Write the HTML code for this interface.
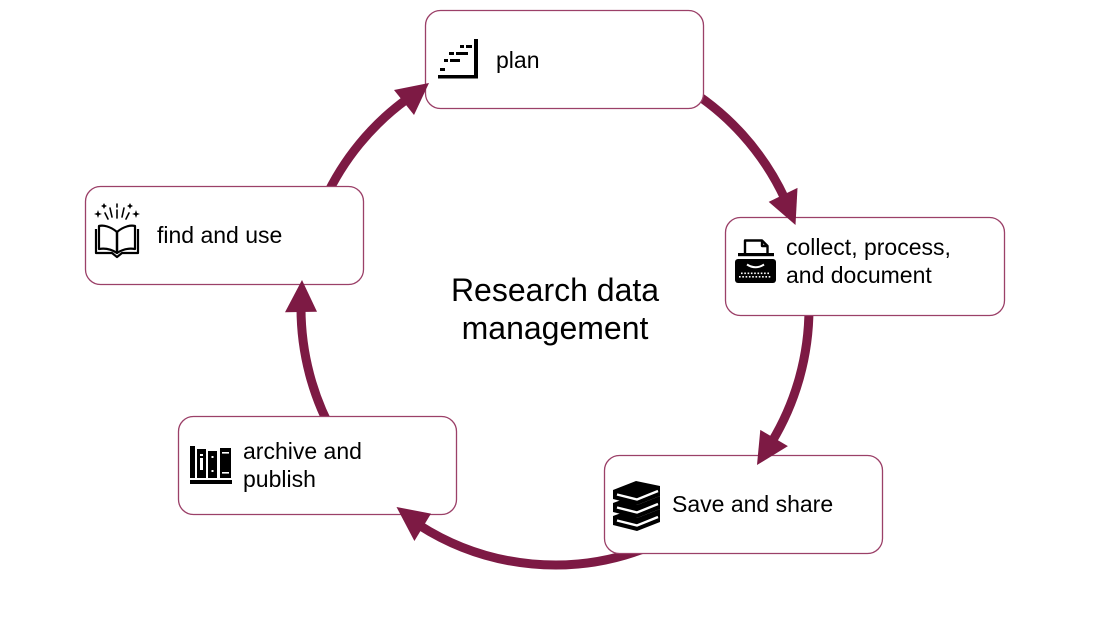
<!DOCTYPE html>
<html>
<head>
<meta charset="utf-8">
<style>
  html, body { margin: 0; padding: 0; background: #ffffff; }
  body { width: 1110px; height: 625px; overflow: hidden; }
  svg { display: block; }
  text { font-family: "Liberation Sans", Arial, sans-serif; fill: #000; }
</style>
</head>
<body>
<svg width="1110" height="625" viewBox="0 0 1110 625" xmlns="http://www.w3.org/2000/svg">
  <rect x="0" y="0" width="1110" height="625" fill="#ffffff"/>

  <!-- cycle arcs -->
  <g fill="none" stroke="#7d1a44" stroke-width="9" stroke-linecap="butt">
    <path d="M324.8,199.4 A254,257 0 0 1 407.1,99.0"/>
    <path d="M682,85.4 A254,257 0 0 1 785.0,199.0"/>
    <path d="M809,308 A254,257 0 0 1 771.8,441.9"/>
    <path d="M650.1,546.3 A254,257 0 0 1 418.9,525.0"/>
    <path d="M335.0,436.5 A254,257 0 0 1 301.0,307.6"/>
  </g>

  <!-- boxes -->
  <g fill="#ffffff" stroke="#9b4068" stroke-width="1.3">
    <rect x="425.5" y="10.5" width="278" height="98" rx="15" ry="15"/>
    <rect x="85.5" y="186.5" width="278" height="98" rx="15" ry="15"/>
    <rect x="725.5" y="217.5" width="279" height="98" rx="15" ry="15"/>
    <rect x="178.5" y="416.5" width="278" height="98" rx="15" ry="15"/>
    <rect x="604.5" y="455.5" width="278" height="98" rx="15" ry="15"/>
  </g>

  <!-- arrowheads -->
  <g fill="#7d1a44">
    <polygon points="429,83 394,90 414,115"/>
    <polygon points="795.5,225 797.5,187.9 768.7,201.9"/>
    <polygon points="757,465 787.9,446.1 760.3,429.9"/>
    <polygon points="396.5,507 414.4,541.0 431.0,513.6"/>
    <polygon points="302,280 285,312.3 317,311.7"/>
  </g>

  <!-- center title -->
  <text x="555" y="301" font-size="32" text-anchor="middle">Research data</text>
  <text x="555" y="339" font-size="32" text-anchor="middle">management</text>

  <!-- labels -->
  <text x="496" y="68" font-size="23">plan</text>
  <text x="157" y="243" font-size="23">find and use</text>
  <text x="786" y="255" font-size="23">collect, process,</text>
  <text x="786" y="283" font-size="23">and document</text>
  <text x="243" y="459" font-size="23">archive and</text>
  <text x="243" y="487" font-size="23">publish</text>
  <text x="672" y="512" font-size="23">Save and share</text>

  <!-- plan icon -->
  <g fill="#000">
    <rect x="474" y="39" width="4" height="39"/>
    <rect x="438" y="75" width="40" height="3.5"/>
    <rect x="460" y="45" width="4" height="3"/>
    <rect x="466" y="45" width="6" height="3"/>
    <rect x="449" y="52" width="5" height="3"/>
    <rect x="456" y="52" width="12" height="3"/>
    <rect x="444" y="59" width="4" height="3"/>
    <rect x="450" y="59" width="10" height="3"/>
    <rect x="440" y="68" width="5" height="3"/>
  </g>

  <!-- find and use icon: open book with sparkles -->
  <g fill="none" stroke="#000" stroke-width="2.2" stroke-linejoin="round">
    <path d="M117,232 C110,226 103,225 99,226 L99,249 C105,248 111,249 117,253 Z"/>
    <path d="M117,232 C124,226 131,225 135,226 L135,249 C129,248 123,249 117,253 Z"/>
    <path d="M96,229 L96,253 L112,253 L117,257 L122,253 L138,253 L138,229"/>
    <line x1="117" y1="232" x2="117" y2="253"/>
  </g>
  <g stroke="#000" stroke-width="1.6" stroke-linecap="round">
    <line x1="117" y1="204" x2="117" y2="207"/>
    <line x1="117" y1="210" x2="117" y2="218"/>
    <line x1="110" y1="208" x2="112" y2="217"/>
    <line x1="124" y1="208" x2="122" y2="217"/>
    <line x1="105" y1="213" x2="108" y2="219"/>
    <line x1="129" y1="213" x2="126" y2="219"/>
  </g>
  <g fill="#000">
    <path d="M98,210 L99,213 L102,214 L99,215 L98,218 L97,215 L94,214 L97,213 Z"/>
    <path d="M136,210 L137,213 L140,214 L137,215 L136,218 L135,215 L132,214 L135,213 Z"/>
    <path d="M104,203 L105,205 L107,206 L105,207 L104,209 L103,207 L101,206 L103,205 Z"/>
    <path d="M130,203 L131,205 L133,206 L131,207 L130,209 L129,207 L127,206 L129,205 Z"/>
  </g>

  <!-- collect icon: typewriter -->
  <g fill="none" stroke="#000" stroke-width="2.4" stroke-linejoin="round">
    <path d="M745,253 L745,240.5 L762,240.5 L767.5,246 L767.5,253"/>
    <path d="M762,240.5 L762,246 L767.5,246"/>
  </g>
  <rect x="738" y="253" width="36" height="3.2" fill="#000"/>
  <rect x="735" y="259" width="41" height="24" rx="3" fill="#000"/>
  <path d="M747,264.5 Q755.5,270 764,264.5" fill="none" stroke="#fff" stroke-width="2"/>
  <g fill="#fff">
    <rect x="739" y="276" width="1.6" height="1.6"/>
    <rect x="742.3" y="276" width="1.6" height="1.6"/>
    <rect x="745.6" y="276" width="1.6" height="1.6"/>
    <rect x="748.9" y="276" width="1.6" height="1.6"/>
    <rect x="752.2" y="276" width="1.6" height="1.6"/>
    <rect x="755.5" y="276" width="1.6" height="1.6"/>
    <rect x="758.8" y="276" width="1.6" height="1.6"/>
    <rect x="762.1" y="276" width="1.6" height="1.6"/>
    <rect x="765.4" y="276" width="1.6" height="1.6"/>
    <rect x="768.7" y="276" width="1.6" height="1.6"/>
    <rect x="741" y="272.5" width="1.6" height="1.6"/>
    <rect x="744.3" y="272.5" width="1.6" height="1.6"/>
    <rect x="747.6" y="272.5" width="1.6" height="1.6"/>
    <rect x="750.9" y="272.5" width="1.6" height="1.6"/>
    <rect x="754.2" y="272.5" width="1.6" height="1.6"/>
    <rect x="757.5" y="272.5" width="1.6" height="1.6"/>
    <rect x="760.8" y="272.5" width="1.6" height="1.6"/>
    <rect x="764.1" y="272.5" width="1.6" height="1.6"/>
    <rect x="767.4" y="272.5" width="1.6" height="1.6"/>
  </g>

  <!-- archive icon: books on shelf -->
  <g fill="#000">
    <rect x="190" y="446" width="5" height="32"/>
    <rect x="197" y="449" width="9" height="29"/>
    <rect x="208" y="451" width="9" height="27"/>
    <rect x="220" y="448" width="11" height="30"/>
    <rect x="190" y="480" width="42" height="4"/>
  </g>
  <g fill="#fff">
    <rect x="200" y="454" width="3" height="2"/>
    <rect x="200" y="458" width="3" height="12"/>
    <rect x="211.5" y="456" width="2" height="2"/>
    <rect x="211.5" y="470" width="2" height="2"/>
    <rect x="222" y="452" width="7" height="1.6"/>
    <rect x="222" y="472" width="7" height="1.6"/>
  </g>

  <!-- save icon: stack of books -->
  <g fill="#000">
    <path d="M613,490 L636,481 L660,486 L660,496 L637,505 L613,499 Z"/>
    <path d="M613,503 L624,499 L637,505 L660,496 L660,509 L637,518 L613,512 Z"/>
    <path d="M613,516 L624,512 L637,518 L660,509 L660,522 L637,531 L613,525 Z"/>
  </g>
  <g fill="none" stroke="#fff" stroke-width="2.4" stroke-linejoin="miter">
    <path d="M658,491 L637,499.5 L617,494.5"/>
    <path d="M658,504 L637,512.5 L617,507.5"/>
    <path d="M658,517 L637,525.5 L617,520.5"/>
  </g>
</svg>
</body>
</html>
